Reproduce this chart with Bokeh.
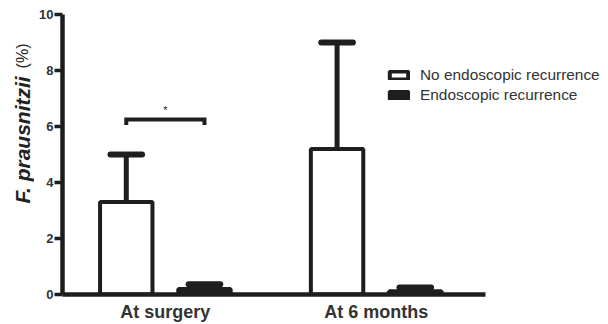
import numpy as np
from bokeh.plotting import figure
from bokeh.layouts import row
from bokeh.models import (ColumnDataSource, Range1d, FixedTicker, Label, Legend,
                          LegendItem)
from bokeh.core.properties import value
from bokeh.embed import file_html
from bokeh.resources import INLINE

# ---- data -------------------------------------------------------------
categories = ["At surgery", "At 6 months"]
no_rec_mean = [3.3, 5.2]
no_rec_upper = [5.0, 9.0]
rec_mean = [0.2, 0.12]
rec_upper = [0.37, 0.25]
y_ticks = [0, 2, 4, 6, 8, 10]
series_names = ["No endoscopic recurrence", "Endoscopic recurrence"]
y_title_italic = "F. prausnitzii"
y_title_unit = "(%)"
sig_y = 6.25
sig_drop = 0.2
sig_text = "*"

# ---- layout constants -------------------------------------------------
FONT = "Liberation Sans"
INK = "#1e1e1e"
offset = 0.1855
bar_w = 0.2486
cap_w = 0.15
LAB_W = 34
TOTAL_W = 608
H = 324

xs = np.arange(1, len(categories) + 1, dtype=float)
x_no = xs - offset
x_re = xs + offset

x_start = 0.512
x_axis_end = 2.5186
px_per_unit = 210.8
frame_w = TOTAL_W - 62
x_end = x_start + frame_w / px_per_unit

p = figure(width=TOTAL_W - LAB_W, height=H, output_backend="svg",
           toolbar_location=None,
           x_range=Range1d(x_start, x_end), y_range=Range1d(0, 10),
           min_border_left=62 - LAB_W, min_border_right=0, min_border_top=14,
           min_border_bottom=H - 294)
p.outline_line_color = None
p.xgrid.visible = False
p.ygrid.visible = False
p.background_fill_color = "white"
p.border_fill_color = "white"

src_no = ColumnDataSource(dict(x=x_no, top=no_rec_mean, up=no_rec_upper,
                               l=x_no - cap_w / 2, r=x_no + cap_w / 2))
src_re = ColumnDataSource(dict(x=x_re, top=rec_mean, up=rec_upper,
                               l=x_re - cap_w / 2, r=x_re + cap_w / 2))

# error stems and caps (upper only)
for src in (src_no, src_re):
    p.segment(x0="x", y0="top", x1="x", y1="up", source=src,
              line_color=INK, line_width=5)
    p.segment(x0="l", y0="up", x1="r", y1="up", source=src,
              line_color=INK, line_width=6, line_cap="round")

r_no = p.vbar(x="x", top="top", bottom=0, width=bar_w, source=src_no,
              fill_color="white", line_color=INK, line_width=4)
r_re = p.vbar(x="x", top="top", bottom=0, width=bar_w, source=src_re,
              fill_color=INK, line_color=INK, line_width=4)

# significance bracket
bx0, bx1 = x_no[0], x_re[0]
p.line(x=[bx0, bx0, bx1, bx1],
       y=[sig_y - sig_drop, sig_y, sig_y, sig_y - sig_drop],
       line_color=INK, line_width=4, line_join="miter")
p.text(x=[(bx0 + bx1) / 2], y=[sig_y + 0.33], text=[sig_text],
       text_font=value(FONT), text_font_size="11px", text_color=INK,
       text_align="center", text_baseline="middle")

# axes
p.xaxis.bounds = (x_start, x_axis_end)
p.xaxis.ticker = FixedTicker(ticks=list(xs))
p.xaxis.major_label_overrides = {int(x): c for x, c in zip(xs, categories)}
p.xaxis.major_tick_line_color = None
p.xaxis.minor_tick_line_color = None
p.xaxis.major_tick_out = 0
p.xaxis.major_tick_in = 0
p.xaxis.axis_line_width = 4.5
p.xaxis.axis_line_color = INK
p.xaxis.major_label_text_font = FONT
p.xaxis.major_label_text_font_style = "bold"
p.xaxis.major_label_text_font_size = "18px"
p.xaxis.major_label_text_color = "#333333"
p.xaxis.major_label_standoff = 7

p.yaxis.ticker = FixedTicker(ticks=y_ticks)
p.yaxis.minor_tick_line_color = None
p.yaxis.major_tick_out = 8
p.yaxis.major_tick_in = 0
p.yaxis.major_tick_line_width = 3.5
p.yaxis.major_tick_line_color = INK
p.yaxis.axis_line_width = 4.5
p.yaxis.axis_line_color = INK
p.yaxis.major_label_text_font = FONT
p.yaxis.major_label_text_font_style = "bold"
p.yaxis.major_label_text_font_size = "13px"
p.yaxis.major_label_text_color = "#333333"
p.yaxis.major_label_standoff = 1

legend = Legend(items=[LegendItem(label=series_names[0], renderers=[r_no]),
                       LegendItem(label=series_names[1], renderers=[r_re])],
                location=(325, 190), orientation="vertical")
legend.padding = 0
legend.margin = 0
legend.spacing = 1
legend.label_height = 19
legend.glyph_width = 23
legend.glyph_height = 10
legend.label_standoff = 10
legend.border_line_alpha = 0
legend.background_fill_alpha = 0
legend.label_text_font = FONT
legend.label_text_font_size = "15.4px"
legend.label_text_color = "#333333"
p.add_layout(legend)

# narrow figure carrying the y axis title (two text styles)
t = figure(width=LAB_W, height=H, output_backend="svg", toolbar_location=None,
           x_range=Range1d(0, 1), y_range=Range1d(0, 1),
           x_axis_location=None, y_axis_location=None,
           min_border_left=0, min_border_right=0, min_border_top=0,
           min_border_bottom=0)
t.outline_line_color = None
t.xgrid.visible = False
t.ygrid.visible = False
t.add_layout(Label(x=22, y=H - 233, x_units="screen", y_units="screen",
                   text=y_title_italic, angle=np.pi / 2,
                   text_align="left", text_baseline="middle",
                   text_font=FONT, text_font_size="21px",
                   text_font_style="bold italic", text_color="#222222"))
t.add_layout(Label(x=22, y=H - 73, x_units="screen", y_units="screen",
                   text=y_title_unit, angle=np.pi / 2,
                   text_align="right", text_baseline="middle",
                   text_font=FONT, text_font_size="16px",
                   text_font_style="normal", text_color="#222222"))

layout = row(t, p)
open("out.html", "w").write(file_html(layout, INLINE))
